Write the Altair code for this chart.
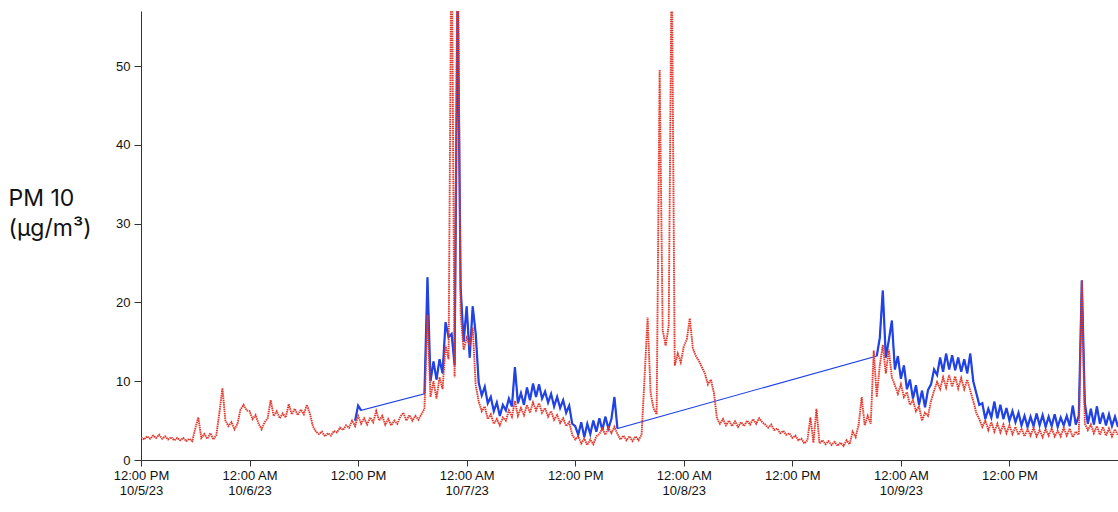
import altair as alt
import pandas as pd

# ---- data (20-minute sampling) ----
RED_START = "2023-10-05 12:00"
red_values = [
    2.9, 2.6, 3.0, 2.7, 3.1, 2.8, 3.2, 2.7, 3.0, 2.6, 2.9, 2.5,
    2.8, 2.5, 2.8, 2.4, 2.7, 2.4, 4.0, 5.4, 2.8, 3.3, 2.7, 3.4,
    2.6, 3.2, 6.0, 9.1, 5.0, 4.3, 4.8, 3.9, 4.6, 6.4, 7.0, 6.3,
    6.2, 5.2, 5.7, 4.6, 3.9, 4.8, 5.3, 7.6, 5.6, 6.2, 5.3, 5.9,
    5.4, 7.1, 5.8, 6.5, 5.7, 6.4, 5.8, 7.0, 5.9, 4.3, 3.6, 3.3,
    3.6, 3.0, 3.4, 3.1, 3.7, 3.5, 4.1, 3.8, 4.4, 4.1, 5.0, 4.3,
    5.6, 4.6, 5.3, 4.5, 5.4, 4.8, 6.2, 5.0, 5.6, 4.5, 5.2, 4.4,
    5.0, 4.6, 5.5, 6.0, 5.0, 5.7, 5.0, 5.6, 5.1, 5.8, 6.5, 18.4,
    8.0, 10.0, 7.8, 10.5, 9.0, 14.5, 12.8, 70, 10.5, 70, 18.5, 14.0,
    15.5, 14.6, 16.8, 9.5, 7.4, 6.2, 6.8, 5.2, 5.8, 4.6, 5.2, 4.4,
    5.4, 5.0, 6.3, 5.5, 7.5, 5.6, 6.6, 5.7, 7.0, 6.0, 7.3, 6.3,
    7.2, 6.0, 6.6, 5.5, 6.2, 5.1, 5.7, 4.7, 5.3, 4.3, 4.8, 3.2,
    2.6, 3.0, 2.1, 2.7, 1.9, 2.6, 2.0, 3.0, 3.3, 4.0, 3.2, 4.1,
    3.4, 4.2, 3.3, 2.6, 3.1, 2.5, 3.0, 2.4, 3.0, 2.5, 3.2, 10.5,
    18.1, 8.5, 6.5, 5.8, 49.5, 16.5, 14.5, 17.0, 65, 12.0, 13.5, 12.4,
    14.4, 15.3, 18.0, 14.2, 13.2, 12.6, 11.8, 11.0, 9.6, 10.2, 8.5, 5.3,
    4.6, 5.2, 4.4, 5.0, 4.3, 4.9, 4.2, 4.8, 4.3, 5.0, 4.5, 5.2,
    4.6, 5.3, 4.8, 4.5, 4.1, 4.5, 3.8, 4.0, 3.4, 3.7, 3.2, 3.4,
    2.8, 3.1, 2.5, 2.7, 2.1, 2.5, 5.4, 2.2, 6.5, 2.1, 2.5, 2.0,
    2.4, 1.9, 2.3, 1.8, 2.2, 1.8, 2.5, 2.0, 3.6, 2.9, 4.5, 8.0,
    4.4, 5.6, 4.6, 13.9, 8.0, 12.0, 14.6, 11.0, 14.0, 10.5, 9.5, 8.4,
    9.6, 8.0, 8.6, 7.0, 7.6, 6.2, 6.8, 5.0, 6.0, 5.6, 7.5, 8.8,
    9.9, 9.0, 10.5, 9.2, 10.8, 9.3, 10.6, 9.1, 10.4, 9.0, 10.2, 8.8,
    7.5, 6.0, 5.2, 4.2, 5.0, 3.8, 4.8, 3.6, 4.6, 3.5, 4.5, 3.4,
    4.4, 3.3, 4.2, 3.2, 4.0, 3.0, 3.9, 3.1, 4.1, 3.0, 3.8, 2.9,
    3.9, 3.1, 4.0, 3.0, 3.7, 3.0, 4.1, 3.1, 4.0, 2.9, 3.6, 3.2,
    22.8, 4.6, 3.8, 4.5, 3.4, 4.3, 3.2, 4.2, 3.1, 4.0, 3.0, 3.9, 3.1,
]

BLUE1_START = "2023-10-06 11:40"
blue1_values = [5.0, 6.9, 6.3]

BLUE2_START = "2023-10-06 19:20"
blue2_values = [
    8.4, 23.2, 10.0, 12.5, 10.2, 12.8, 11.0, 17.5, 15.6, 16.0, 12.0, 60,
    21.9, 15.0, 19.5, 13.0, 19.5, 16.0, 9.8, 8.2, 9.3, 7.2, 8.0, 6.2,
    7.3, 5.6, 7.0, 6.3, 7.8, 6.8, 11.8, 7.2, 8.5, 7.0, 9.2, 7.6,
    9.7, 8.0, 9.6, 7.8, 8.7, 7.3, 8.4, 6.8, 8.0, 6.6, 7.6, 6.0,
    6.9, 4.6, 4.3, 3.2, 4.8, 2.9, 4.6, 3.3, 5.0, 3.6, 5.3, 3.8,
    5.5, 4.0, 5.2, 8.0, 4.0,
]

BLUE3_START = "2023-10-08 21:20"
blue3_values = [
    13.2, 15.5, 21.5, 13.0, 15.2, 17.7, 11.5, 13.2, 10.3, 12.0, 9.0, 10.2,
    7.8, 9.5, 7.0, 8.8, 6.7, 8.9, 9.6, 11.5, 10.8, 13.0, 11.2, 13.5,
    11.5, 13.3, 11.4, 13.0, 11.2, 12.8, 11.0, 13.5, 10.0, 8.5, 7.0, 7.2,
    5.2, 6.5, 5.4, 7.4, 5.3, 7.0, 5.2, 6.6, 5.0, 6.2, 4.8, 6.0,
    4.4, 5.6, 4.2, 5.5, 4.3, 5.9, 4.4, 5.7, 4.2, 5.5, 4.3, 5.8,
    4.2, 5.4, 4.4, 5.6, 4.3, 6.9, 4.5, 5.6, 22.8, 7.2, 4.6, 6.5,
    4.5, 6.8, 4.6, 6.0, 4.4, 5.8, 4.3, 5.5, 4.2,
]

tick_days = [5, 6, 6, 7, 7, 8, 8, 9, 9]
tick_hours = [12, 0, 12, 0, 12, 0, 12, 0, 12]


def series(start, values, seg=0):
    t = pd.date_range(start=start, periods=len(values), freq="20min")
    return pd.DataFrame({"time": t, "pm": values, "seg": seg})


red = series(RED_START, red_values)
blue = pd.concat([
    series(BLUE1_START, blue1_values, 1),
    series(BLUE2_START, blue2_values, 2),
    series(BLUE3_START, blue3_values, 3),
], ignore_index=True)

x_scale = alt.Scale(
    domain=[alt.DateTime(year=2023, month=10, date=5, hours=12),
            alt.DateTime(year=2023, month=10, date=10, hours=0)],
    nice=False,
)
y_scale = alt.Scale(domain=[0, 57], nice=False, zero=True)

label_expr = (
    "(hours(datum.value) == 0 || date(datum.value) == 5) ? "
    "[timeFormat(datum.value, '%I:%M %p'), timeFormat(datum.value, '%-m/%-d/%y')] : "
    "timeFormat(datum.value, '%I:%M %p')"
)

x_axis = alt.Axis(
    values=[alt.DateTime(year=2023, month=10, date=d, hours=h)
            for d, h in zip(tick_days, tick_hours)],
    labelExpr=label_expr,
    title=None,
    grid=False,
    tickSize=6,
    labelPadding=3,
    labelFont="Liberation Sans",
    labelFontSize=13,
    labelColor="#111111",
    labelLineHeight=15,
    labelFlush=False,
    labelOverlap=False,
    domainColor="#333333",
    tickColor="#333333",
)

y_axis = alt.Axis(
    values=[0, 10, 20, 30, 40, 50],
    title=["PM 10", "(µg/m³)"],
    titleAngle=0,
    titleAlign="left",
    titleBaseline="alphabetic",
    titleX=-133,
    titleY=194,
    titleFont="Inter",
    titleFontSize=23,
    titleFontWeight="normal",
    titleLineHeight=30,
    titleColor="#111111",
    grid=False,
    tickSize=7,
    labelPadding=4,
    labelFont="Liberation Sans",
    labelFontSize=13,
    labelColor="#111111",
    domainColor="#333333",
    tickColor="#333333",
)

# thin line through all blue samples (draws the straight joins across gaps)
blue_join = alt.Chart(blue).mark_line(
    color="#2143e6", strokeWidth=1.1, clip=True
).encode(
    x=alt.X("time:T", scale=x_scale, axis=x_axis),
    y=alt.Y("pm:Q", scale=y_scale, axis=y_axis),
)

# the recorded stretches themselves, drawn heavier
blue_line = alt.Chart(blue).mark_line(
    color="#2143e6", strokeWidth=2.2, clip=True
).encode(
    x=alt.X("time:T", scale=x_scale),
    y=alt.Y("pm:Q", scale=y_scale),
    detail="seg:N",
)

red_line = alt.Chart(red).mark_line(
    color="#e2372a", strokeWidth=1.9, strokeDash=[1.5, 0.7], clip=True
).encode(
    x=alt.X("time:T", scale=x_scale),
    y=alt.Y("pm:Q", scale=y_scale),
)

chart = alt.layer(blue_join, blue_line, red_line).properties(
    width=977,
    height=449,
    autosize=alt.AutoSizeParams(type="none"),
    padding={"left": 141, "top": 11, "right": 0, "bottom": 52},
    background="white",
).configure_view(stroke=None)

chart.save("out.html", embed_options={"renderer": "svg", "actions": False})
